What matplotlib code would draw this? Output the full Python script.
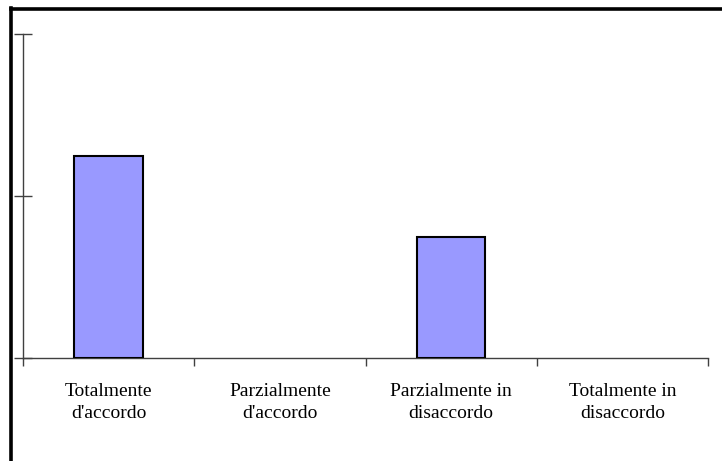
import matplotlib
matplotlib.use("Agg")
import matplotlib.pyplot as plt
from matplotlib.lines import Line2D

categories = ["Totalmente\nd'accordo", "Parzialmente\nd'accordo",
              "Parzialmente in\ndisaccordo", "Totalmente in\ndisaccordo"]
values = [0.625, 0.0, 0.375, 0.0]
y_ticks = [0.0, 0.5, 1.0]

plt.rcParams['font.family'] = ['Liberation Serif', 'DejaVu Serif']

fig = plt.figure(figsize=(7.22, 4.61), dpi=100)
W, H = 722, 461
ax = fig.add_axes([23 / W, 1 - 358 / H, (708 - 23) / W, (358 - 34) / H])

x = list(range(len(categories)))
bars = ax.bar(x, values, width=0.4, color="#9999FF", edgecolor="black", linewidth=1.5, zorder=3)
for b, v in zip(bars, values):
    if v == 0:
        b.set_visible(False)

ax.set_xlim(-0.5, len(categories) - 0.5)
ax.set_ylim(0, 1.0)

for s in ["top", "right"]:
    ax.spines[s].set_visible(False)
for s in ["left", "bottom"]:
    ax.spines[s].set_color("#404040")
    ax.spines[s].set_linewidth(1.0)

ax.set_yticks(y_ticks)
ax.set_yticklabels([])
ax.tick_params(axis="y", direction="inout", length=13, width=1.0, color="#404040")

ax.set_xticks([i - 0.5 for i in range(len(categories) + 1)])
ax.set_xticklabels([])
ax.tick_params(axis="x", which="major", direction="out", length=6, width=1.0, color="#404040")
ax.set_xticks(x, minor=True)
ax.set_xticklabels(categories, minor=True, fontsize=14, linespacing=1.4)
ax.tick_params(axis="x", which="minor", length=0, pad=18)

# outer frame (cropped at right and bottom)
fig.add_artist(Line2D([10.5 / W, 10.5 / W], [0, 1 - 8 / H], transform=fig.transFigure,
                      color="black", linewidth=2.6, solid_capstyle="projecting"))
fig.add_artist(Line2D([10.5 / W, 1], [1 - 9.5 / H, 1 - 9.5 / H], transform=fig.transFigure,
                      color="black", linewidth=2.6, solid_capstyle="projecting"))

fig.savefig("out.png", dpi=100, facecolor="white")
